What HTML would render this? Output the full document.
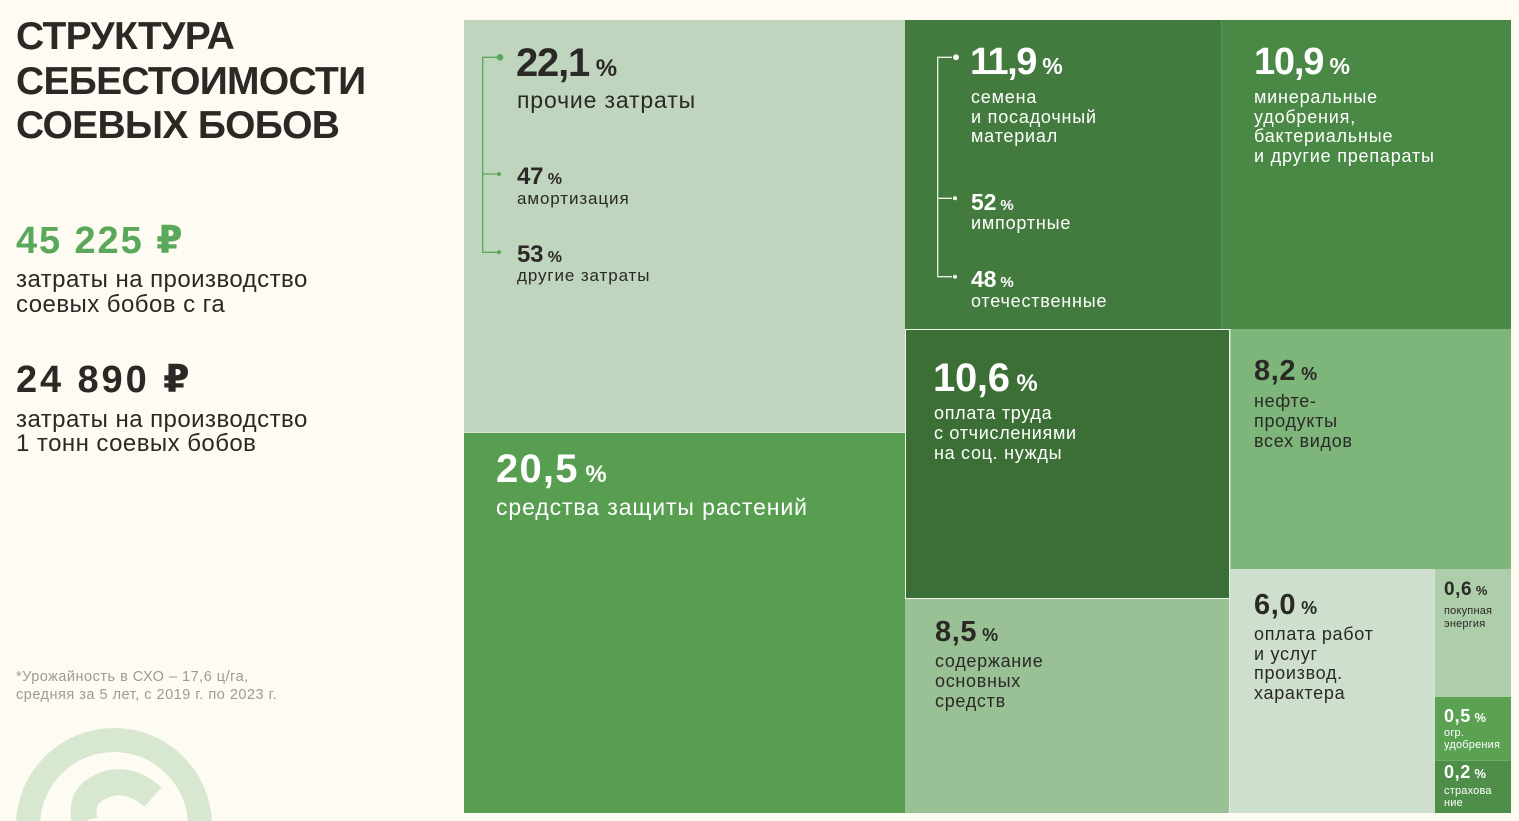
<!DOCTYPE html>
<html><head><meta charset="utf-8">
<style>
html{margin:0;padding:0;width:1519px;height:821px;overflow:hidden;}
body{margin:0;padding:0;width:1519px;height:821px;background:#FDFBF2;position:relative;overflow:hidden;font-family:"Liberation Sans","DejaVu Sans",sans-serif;color:#2A2926;}
.c{position:absolute;}
.t{position:absolute;white-space:nowrap;}
.n{font-weight:bold;}
.w{color:#FFFFFF;}
.d{color:#2A2926;}
</style></head><body>

<!-- left panel -->
<div class="t n" style="left:16px;top:15px;font-size:39px;line-height:44.5px;letter-spacing:-0.7px;">СТРУКТУРА<br>СЕБЕСТОИМОСТИ<br>СОЕВЫХ БОБОВ</div>
<div class="t n" style="left:16px;top:222px;font-size:38px;line-height:38px;color:#5AA95A;letter-spacing:1.9px;">45 225 ₽</div>
<div class="t" style="left:16px;top:268px;font-size:24px;line-height:24.5px;letter-spacing:0.45px;">затраты на производство<br>соевых бобов с га</div>
<div class="t n" style="left:16px;top:361px;font-size:38px;line-height:38px;letter-spacing:2.9px;">24 890 ₽</div>
<div class="t" style="left:16px;top:407.5px;font-size:24px;line-height:24.5px;letter-spacing:0.45px;">затраты на производство<br>1 тонн соевых бобов</div>
<div class="t" style="left:16px;top:669px;font-size:14.5px;line-height:17.5px;letter-spacing:0.5px;color:#9C9C96;">*Урожайность в СХО – 17,6 ц/га,<br>средняя за 5 лет, с 2019 г. по 2023 г.</div>

<svg class="c" style="left:0;top:0;display:block" width="460" height="821" viewBox="0 0 460 821">
  <path d="M 16.13 821 A 98 98 0 0 1 211.87 821 L 187.83 821 A 74 74 0 0 0 40.17 821 Z" fill="#D7E7D0"/>
  <path d="M 153 797 Q 122 770 92 792 Q 80 803 85 821" fill="none" stroke="#D7E7D0" stroke-width="26" stroke-linecap="butt"/>
</svg>

<!-- treemap cells -->
<div class="c" style="left:464px;top:20px;width:441px;height:412px;background:#BFD5BE;"></div>
<div class="c" style="left:464px;top:432px;width:441px;height:381px;background:#589E51;border-top:1px solid #D9E6D5;box-sizing:border-box;"></div>
<div class="c" style="left:905px;top:20px;width:316px;height:309px;background:#437B3E;"></div>
<div class="c" style="left:1221px;top:20px;width:290px;height:309px;background:#4A8846;border-left:1px solid #5C9657;box-sizing:border-box;"></div>
<div class="c" style="left:905px;top:329px;width:325px;height:270px;background:#3C6F36;border:1px solid #F3F6EE;box-sizing:border-box;"></div>
<div class="c" style="left:1230px;top:329px;width:281px;height:240px;background:#7EB57B;border-left:1px solid #A9CCA6;box-sizing:border-box;"></div>
<div class="c" style="left:905px;top:599px;width:324px;height:214px;background:#9AC196;"></div>
<div class="c" style="left:1229px;top:569px;width:206px;height:244px;background:#CEE0CD;border-left:1px solid #E4EEE2;box-sizing:border-box;"></div>
<div class="c" style="left:1435px;top:569px;width:76px;height:128px;background:#AECDAA;"></div>
<div class="c" style="left:1435px;top:697px;width:76px;height:63px;background:#5AA152;"></div>
<div class="c" style="left:1435px;top:760px;width:76px;height:53px;background:#4E8E48;border-top:1px solid #6FAE69;box-sizing:border-box;"></div>

<!-- brackets -->
<svg class="c" style="left:0;top:0;display:block" width="1519" height="821">
  <path d="M 497 57.3 H 482.7 V 252.3 H 497 M 482.7 174 H 497" fill="none" stroke="#5AA65A" stroke-width="1.3"/>
  <circle cx="500" cy="57.3" r="3.3" fill="#5AA65A"/>
  <circle cx="499" cy="174" r="2" fill="#5AA65A"/>
  <circle cx="499" cy="252.3" r="2" fill="#5AA65A"/>
  <path d="M 952 57.3 H 937.7 V 276.7 H 952 M 937.7 198.3 H 952" fill="none" stroke="#E8EFE5" stroke-width="1.3"/>
  <circle cx="956" cy="57.3" r="3" fill="#F4F6F0"/>
  <circle cx="955" cy="198.3" r="2" fill="#F4F6F0"/>
  <circle cx="955" cy="276.7" r="2" fill="#F4F6F0"/>
</svg>

<!-- 22.1 -->
<div class="t n d" style="left:516px;top:42.8px;font-size:40px;line-height:40px;letter-spacing:-1.2px;">22,1<span style="font-size:24px;letter-spacing:0;"> %</span></div>
<div class="t d" style="left:517px;top:89px;font-size:23px;line-height:23px;letter-spacing:0.85px;">прочие затраты</div>
<div class="t n d" style="left:517px;top:164.5px;font-size:24px;line-height:24px;letter-spacing:-0.2px;">47<span style="font-size:16px;letter-spacing:0;"> %</span></div>
<div class="t d" style="left:517px;top:189.6px;font-size:17px;line-height:17px;letter-spacing:0.9px;">амортизация</div>
<div class="t n d" style="left:517px;top:242.5px;font-size:24px;line-height:24px;letter-spacing:-0.2px;">53<span style="font-size:16px;letter-spacing:0;"> %</span></div>
<div class="t d" style="left:517px;top:267.3px;font-size:17px;line-height:17px;letter-spacing:0.9px;">другие затраты</div>

<!-- 11.9 -->
<div class="t n w" style="left:970px;top:42.8px;font-size:38px;line-height:38px;letter-spacing:-1.5px;">11,9<span style="font-size:23px;letter-spacing:0;"> %</span></div>
<div class="t w" style="left:971px;top:88px;font-size:18px;line-height:19.7px;letter-spacing:0.8px;">семена<br>и посадочный<br>материал</div>
<div class="t n w" style="left:971px;top:190.5px;font-size:23px;line-height:23px;letter-spacing:-0.2px;">52<span style="font-size:15px;letter-spacing:0;"> %</span></div>
<div class="t w" style="left:971px;top:214px;font-size:18px;line-height:18px;letter-spacing:0.8px;">импортные</div>
<div class="t n w" style="left:971px;top:268.2px;font-size:23px;line-height:23px;letter-spacing:-0.2px;">48<span style="font-size:15px;letter-spacing:0;"> %</span></div>
<div class="t w" style="left:971px;top:292px;font-size:18px;line-height:18px;letter-spacing:0.8px;">отечественные</div>

<!-- 10.9 -->
<div class="t n w" style="left:1254px;top:42.8px;font-size:38px;line-height:38px;letter-spacing:-1.2px;">10,9<span style="font-size:23px;letter-spacing:0;"> %</span></div>
<div class="t w" style="left:1254px;top:88px;font-size:18px;line-height:19.6px;letter-spacing:0.8px;">минеральные<br>удобрения,<br>бактериальные<br>и другие препараты</div>

<!-- 10.6 -->
<div class="t n w" style="left:933px;top:357.8px;font-size:40px;line-height:40px;letter-spacing:-0.3px;">10,6<span style="font-size:24px;letter-spacing:0;"> %</span></div>
<div class="t w" style="left:934px;top:402.5px;font-size:18px;line-height:20px;letter-spacing:0.7px;">оплата труда<br>с отчислениями<br>на соц. нужды</div>

<!-- 8.2 -->
<div class="t n d" style="left:1254px;top:357px;font-size:29px;line-height:28px;letter-spacing:0.6px;">8,2<span style="font-size:18px;letter-spacing:0;"> %</span></div>
<div class="t d" style="left:1254px;top:391.1px;font-size:18px;line-height:20px;letter-spacing:0.7px;">нефте-<br>продукты<br>всех видов</div>

<!-- 20.5 -->
<div class="t n w" style="left:496px;top:449.4px;font-size:40px;line-height:40px;letter-spacing:1.2px;">20,5<span style="font-size:24px;letter-spacing:0;"> %</span></div>
<div class="t w" style="left:496px;top:495.5px;font-size:23px;line-height:23px;letter-spacing:0.9px;">средства защиты растений</div>

<!-- 8.5 -->
<div class="t n d" style="left:935px;top:619px;font-size:29px;line-height:26px;letter-spacing:0.6px;">8,5<span style="font-size:18px;letter-spacing:0;"> %</span></div>
<div class="t d" style="left:935px;top:652.2px;font-size:18px;line-height:19.7px;letter-spacing:0.7px;">содержание<br>основных<br>средств</div>

<!-- 6.0 -->
<div class="t n d" style="left:1254px;top:591.5px;font-size:29px;line-height:26px;letter-spacing:0.6px;">6,0<span style="font-size:18px;letter-spacing:0;"> %</span></div>
<div class="t d" style="left:1254px;top:625px;font-size:18px;line-height:19.5px;letter-spacing:0.7px;">оплата работ<br>и услуг<br>производ.<br>характера</div>

<!-- 0.6 -->
<div class="t n d" style="left:1444px;top:581px;font-size:19px;line-height:18px;letter-spacing:0.6px;">0,6<span style="font-size:13px;letter-spacing:0;"> %</span></div>
<div class="t d" style="left:1444px;top:604.5px;font-size:11px;line-height:13px;letter-spacing:0.2px;">покупная<br>энергия</div>

<!-- 0.5 -->
<div class="t n w" style="left:1444px;top:707.5px;font-size:18px;line-height:17px;letter-spacing:0.6px;">0,5<span style="font-size:13px;letter-spacing:0;"> %</span></div>
<div class="t w" style="left:1444px;top:727px;font-size:11px;line-height:12.4px;letter-spacing:0.2px;">огр.<br>удобрения</div>

<!-- 0.2 -->
<div class="t n w" style="left:1444px;top:764px;font-size:18px;line-height:17px;letter-spacing:0.6px;">0,2<span style="font-size:13px;letter-spacing:0;"> %</span></div>
<div class="t w" style="left:1444px;top:785px;font-size:11px;line-height:12px;letter-spacing:0.2px;">страхова<br>ние</div>

</body></html>
